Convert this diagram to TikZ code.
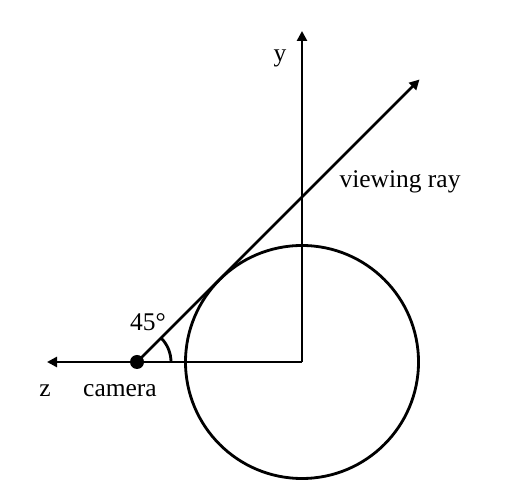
\documentclass[tikz,border=0pt]{standalone}
\usepackage{fontspec}
\setmainfont{Liberation Serif}
\usetikzlibrary{positioning, arrows.meta, calc}
\tikzset{
  axis/.style={black, line width=1.6pt},
  axisarrow/.style={axis, -{Triangle[length=0.2cm, width=0.2cm]}},
  lbl/.style={font=\fontsize{14.5}{17}\selectfont, inner sep=0pt}
}

\begin{document}
\begin{tikzpicture}[scale=1.0]
    \useasboundingbox (0,0) rectangle (10.2,10);
    % Ursprung, Kamera und Achsenenden
    \coordinate (O) at (6.04,2.76);
    \coordinate (ytip) at (6.04,9.38);
    \coordinate (ztip) at (0.94,2.76);
    \coordinate (cam) at (2.74,2.76);
    \coordinate (raytip) at ($(cam)+(45:7.99)$);
    % Kugel
    \draw[axis] (O) circle (2.33);
    % Achsen
    \draw[axisarrow] (O) -- (ytip);
    \draw[axisarrow] (O) -- (ztip);
    % Sehstrahl, tangential an die Kugel
    \draw[axisarrow] (cam) -- (raytip);
    % Winkelbogen
    \draw[axis] ($(cam)+(0.68,0)$) arc (0:45:0.68);
    % Kamera
    \node[circle, fill=black, minimum size=0.28cm, inner sep=0pt] (camdot) at (cam) {};
    % Beschriftungen
    \node[lbl] (ylbl) at (5.6,8.83) {y};
    \node[lbl] (raylbl) at (8.0,6.36) {viewing ray};
    \node[lbl] (anglelbl) at (2.96,3.56) {45°};
    \node[lbl] (zlbl) at (0.9,2.18) {z};
    \node[lbl] (camlbl) at (2.4,2.18) {camera};
  \end{tikzpicture}
\end{document}
